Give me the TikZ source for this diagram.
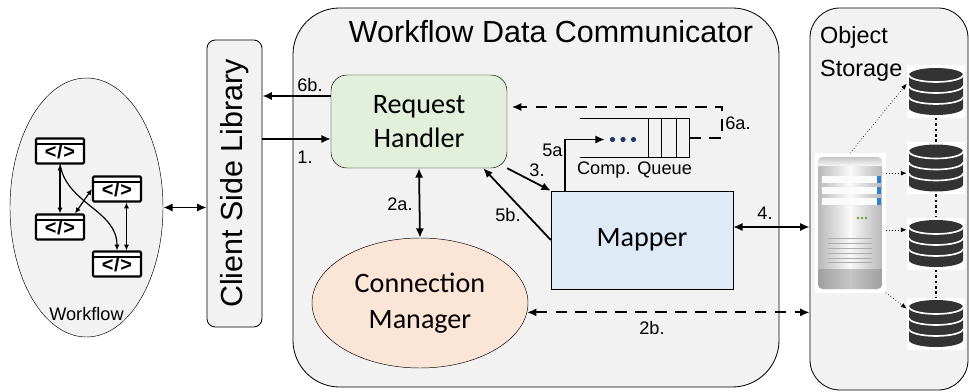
\documentclass[tikz,border=0pt]{standalone}
\usepackage{fontspec}
\setmainfont{Liberation Sans}
\newfontfamily\carlito{Carlito}
\usetikzlibrary{positioning, calc, arrows.meta, shapes.geometric}

\definecolor{panel}{HTML}{F2F2F2}
\definecolor{handlerfill}{HTML}{E2EFDA}
\definecolor{managerfill}{HTML}{FBE5D6}
\definecolor{mapperfill}{HTML}{DEEBF7}
\definecolor{dbgray}{HTML}{333333}
\definecolor{ledblue}{HTML}{2F80D0}
\definecolor{ledgreen}{HTML}{6E9E3A}
\definecolor{dotnavy}{HTML}{203864}

\newcommand{\codetag}{\raisebox{-3pt}{<\kern0.6pt/\kern0.6pt>}}

\tikzset{
  panelbox/.style={draw, fill=panel, line width=0.7pt},
  num/.style={font=\fontsize{15.5}{18}\selectfont, inner sep=1pt},
  big/.style={font=\carlito\fontsize{24}{29}\selectfont, align=center},
  flow/.style={line width=1.5pt},
  dashflow/.style={line width=1.5pt, dash pattern=on 10pt off 7pt},
  wfarrow/.style={line width=1pt, {Latex[length=5pt,width=4.5pt]}-{Latex[length=5pt,width=4.5pt]}},
  dotlink/.style={line width=0.6pt, dotted, -{Latex[length=5pt,width=4pt]}},
  dbchain/.style={line width=2.3pt, dash pattern=on 2.3pt off 2.3pt},
  codebox/.style={draw, line width=1.8pt, fill=white, rounded corners=1pt,
    minimum width=1.44cm, minimum height=0.75cm, inner sep=0,
    font=\bfseries\fontsize{17}{17}\selectfont,
    path picture={
      \draw [line width=1pt] ($(path picture bounding box.north west)+(0,-5.5)$)
        -- ($(path picture bounding box.north east)+(0,-5.5)$);
      \foreach \i in {1,2,3}
        \fill ($(path picture bounding box.north west)+(2+2.6*\i,-2.8)$) circle (0.8);
    }},
  dbicon/.style={fill=white, minimum width=1.74cm, minimum height=1.56cm, inner sep=0,
    path picture={
      \begin{scope}[shift={(path picture bounding box.center)}]
        \fill [dbgray] (-27,16.5) -- (-27,-16.5)
          arc [start angle=180, end angle=360, x radius=27, y radius=7]
          -- (27,16.5) arc [start angle=0, end angle=180, x radius=27, y radius=7] -- cycle;
        \foreach \y in {16.5,5.5,-5.5}
          \draw [white, line width=1.4pt] (-27,\y)
            arc [start angle=180, end angle=360, x radius=27, y radius=7];
      \end{scope}
    }},
  servericon/.style={fill=white, minimum width=2.13cm, minimum height=4.17cm, inner sep=0,
    path picture={
      \begin{scope}[shift={(path picture bounding box.center)}]
        \begin{scope}
          \clip [rounded corners=4] (-32,-66) rectangle (32,66);
          \shade [left color=gray!55, right color=gray!55, middle color=gray!5] (-32,-66) rectangle (32,66);
          \shade [top color=gray!45, bottom color=gray!10] (-32,58) rectangle (32,66);
          \shade [left color=gray!75, right color=gray!75, middle color=gray!45] (-32,-66) rectangle (32,-46);
        \end{scope}
        \foreach \y in {44,33,22} {
          \fill [gray!3] (-28,\y-3.5) rectangle (27,\y+3.5);
          \fill [ledblue] (27,\y-3.5) rectangle (31,\y+3.5);
        }
        \foreach \x in {8,12,16}
          \fill [ledgreen] (\x,5) circle (1.3);
        \foreach \y in {-15,-20,-25,-30,-35,-39}
          \draw [gray!65, line width=0.6pt] (-22,\y) -- (22,\y);
      \end{scope}
    }},
}

\begin{document}
\begin{tikzpicture}
[x=0.03cm, y=0.03cm, >={Latex[length=8pt, width=7pt]}]

\useasboundingbox (0,0) rectangle (969,-392);

\node [panelbox, rounded corners=1.4cm, minimum width=14.58cm, minimum height=11.37cm] (wdc) at (536,-197.5) {};
\node [anchor=north, inner sep=0, font=\fontsize{26}{30}\selectfont] (title) at ($(wdc.north)+(15,-13)$) {Workflow Data Communicator};

\node [panelbox, rounded corners=0.9cm, minimum width=4.74cm, minimum height=11.46cm] (storage) at (889,-199) {};
\node [anchor=north west, inner sep=0, align=left, font=\fontsize{20}{28}\selectfont] (oslabel) at (820,-26) {Object\\Storage};

\node [panelbox, rounded corners=0.25cm, minimum width=1.65cm, minimum height=8.61cm] (csl) at (234.5,-183.5) {};
\node [rotate=90, font=\fontsize{26}{30}\selectfont] (csltext) at (csl.center) {Client Side Library};

\node [ellipse, draw, fill=panel, minimum width=4.59cm, minimum height=7.77cm, inner sep=0] (workflow) at (86.5,-207.5) {};
\node [num, above=0.45cm of workflow.south] (wflabel) {Workflow};

\node [codebox] (i1) at (60,-151) {\codetag};
\node [codebox] (i2) at (117,-189) {\codetag};
\node [codebox] (i3) at (60,-227) {\codetag};
\node [codebox] (i4) at (117,-264) {\codetag};

\draw [wfarrow] (i1.south) -- (i3.north);
\draw [wfarrow] (i2.west) -- (i3.42);
\draw [wfarrow] (i2.-55) -- (i2.-55 |- i4.north);
\draw [line width=1pt, -{Latex[length=5pt,width=4.5pt]}] (i1.south) to [out=-80, in=90] (i4.north);

\node [draw, fill=handlerfill, rounded corners=0.48cm, minimum width=5.28cm, minimum height=2.79cm, big] (handler) at (419,-121.5) {Request\\Handler};
\node [draw, fill=mapperfill, minimum width=5.46cm, minimum height=2.94cm, big] (mapper) at (642,-240) {Mapper};
\node [ellipse, draw, fill=managerfill, minimum width=6.48cm, minimum height=3.9cm, inner sep=0, big, font=\carlito\fontsize{24}{31}\selectfont] (manager) at (420,-303) {Connection\\Manager};

\node [minimum width=3.27cm, minimum height=1.14cm, inner sep=0] (queue) at (634.5,-138) {};
\draw [line width=1pt] (queue.north west) -- (queue.north east) -- (queue.south east) -- (queue.south west);
\foreach \d in {13,28,41}
  \draw [line width=1pt] ($(queue.north east)+(-\d,0)$) -- ($(queue.south east)+(-\d,0)$);
\node [num, below=3pt of queue] (qlabel) {Comp. Queue};
\node [minimum width=1.08cm, minimum height=0.3cm, inner sep=0] (dots) at (623,-139.5) {};
\foreach \d in {-10.5,0,10.5}
  \fill [dotnavy] ($(dots.center)+(\d,0)$) circle (2.6);

\node [servericon] (server) at (850,-223) {};
\node [dbicon] (db1) at (936,-91.5) {};
\node [dbicon] (db2) at (936,-168) {};
\node [dbicon] (db3) at (936,-243.5) {};
\node [dbicon] (db4) at (936,-323.5) {};

\foreach \a/\b in {db1/db2, db2/db3, db3/db4}
  \draw [dbchain] (\a) -- (\b);
\draw [dotlink] (server.north) -- (db1.165);
\draw [dotlink] (server.east |- db2.190) -- (db2.190);
\draw [dotlink] (server.east |- db3.155) -- (db3.155);
\draw [dotlink] (server.south east) -- (db4.153);

\draw [<->, flow] (workflow.east) -- (workflow.east -| csl.west);

\coordinate (in) at ($(handler.west)+(0,-17.5)$);
\coordinate (out) at ($(handler.west)+(0,25.5)$);
\draw [->, flow] (csl.east |- in) -- (in);
\draw [->, flow] (out) -- (csl.east |- out);

\draw [<->, flow] (handler.south) -- (manager.north);
\draw [->, flow] (handler.south east) -- (mapper.north west);
\draw [->, flow] (mapper.west) -- (handler.-36);
\draw [->, flow] ($(mapper.north west)+(14,0)$) |- (dots.west);
\draw [->, dashflow, shorten >=4pt] (queue.east) -| ++(33,31) coordinate (turn) -- (turn -| handler.east);

\coordinate (m4) at ($(mapper.east)+(0,13)$);
\draw [<->, flow] (m4) -- (m4 -| storage.west);
\draw [<->, dashflow] (manager.-5) -- (manager.-5 -| storage.west);

\node [num] (l1) at (305,-157) {1.};
\node [num] (l6b) at (310,-85) {6b.};
\node [num] (l2a) at (400,-204) {2a.};
\node [num] (l3) at (537,-170) {3.};
\node [num] (l5a) at (555,-150) {5a.};
\node [num] (l5b) at (508,-215) {5b.};
\node [num] (l6a) at (738,-123) {6a.};
\node [num] (l4) at (765,-213) {4.};
\node [num] (l2b) at (652,-328) {2b.};

\end{tikzpicture}
\end{document}
